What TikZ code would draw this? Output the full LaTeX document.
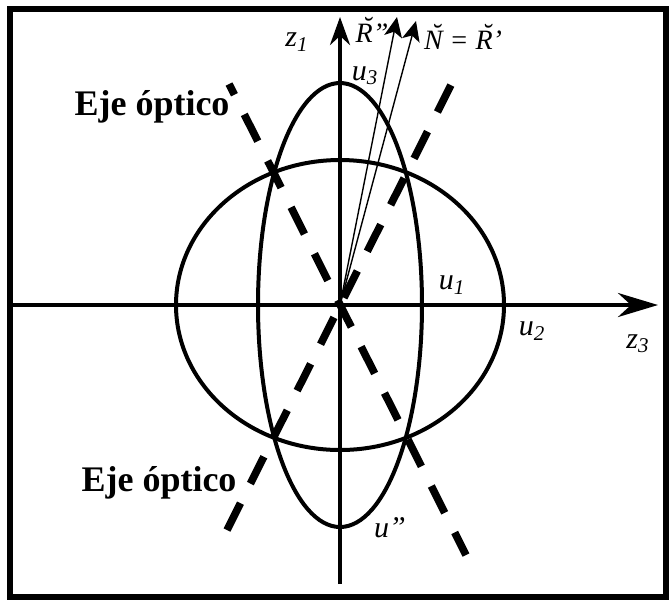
\documentclass[tikz,border=0pt]{standalone}
\usepackage{fontspec}
\setmainfont{Liberation Serif}
\usetikzlibrary{arrows.meta}
\newcommand{\brv}[1]{\ooalign{#1\cr\hidewidth\kern0.18em\raisebox{0.22em}{˘}\hidewidth\cr}}

\begin{document}
\begin{tikzpicture}[x=0.5pt,y=-0.5pt,
    axis/.style={line width=2pt},
    curve/.style={line width=2pt},
    optaxis/.style={line width=3.8pt, dash pattern=on 15pt off 11pt},
    ray/.style={line width=0.7pt, -{Stealth[length=10pt,width=9pt,inset=2.5pt]}},
    lbl/.style={inner sep=0pt, font=\itshape\fontsize{15}{15}\selectfont},
    small/.style={inner sep=0pt, font=\itshape\fontsize{14}{14}\selectfont},
    eje/.style={inner sep=0pt, font=\bfseries\fontsize{18}{20}\selectfont}]
    \useasboundingbox (0,0) rectangle (669,602);
    \draw[line width=2.6pt] (10,9) rectangle (666,597);

    \coordinate (O) at (340,305);
    \coordinate (xl) at (10,305);
    \coordinate (xr) at (658,305);
    \coordinate (yb) at (340,584);
    \coordinate (yt) at (340,17);

    % ellipses
    \draw[curve] (O) ellipse [x radius=41pt, y radius=111pt];
    \draw[curve] (O) ellipse [x radius=82pt, y radius=72.5pt];

    % optic axes
    \coordinate (a1) at (229,84);
    \coordinate (b1) at (466,555);
    \coordinate (a2) at (227,530);
    \coordinate (b2) at (454,79);
    \draw[optaxis, dash phase=9pt] (a1) -- (b1);
    \draw[optaxis] (a2) -- (b2);

    % axes
    \draw[axis, -{Stealth[length=20pt,width=12pt]}] (xl) -- (xr);
    \draw[axis, -{Stealth[length=14pt,width=10pt]}] (yb) -- (yt);

    % rays
    \coordinate (tR) at (397,17);
    \coordinate (tN) at (416,21);
    \draw[ray] (O) -- (tR);
    \draw[ray] (O) -- (tN);

    \node[lbl] (z1) at (297,42) {z\textsubscript{1}};
    \node[lbl] (u3) at (365,76) {u\textsubscript{3}};
    \node[small] (R2) at (372,33) {\brv{R}''};
    \node[small] (NR) at (463,40) {\brv{N} = \brv{R}'};
    \node[lbl] (u1) at (452,285) {u\textsubscript{1}};
    \node[lbl] (u2) at (532,331) {u\textsubscript{2}};
    \node[lbl] (z3) at (638,344) {z\textsubscript{3}};
    \node[lbl] (u0) at (390,528) {u''};
    \node[eje] (eje1) at (152,107) {Eje óptico};
    \node[eje] (eje2) at (159,483) {Eje óptico};
\end{tikzpicture}
\end{document}
